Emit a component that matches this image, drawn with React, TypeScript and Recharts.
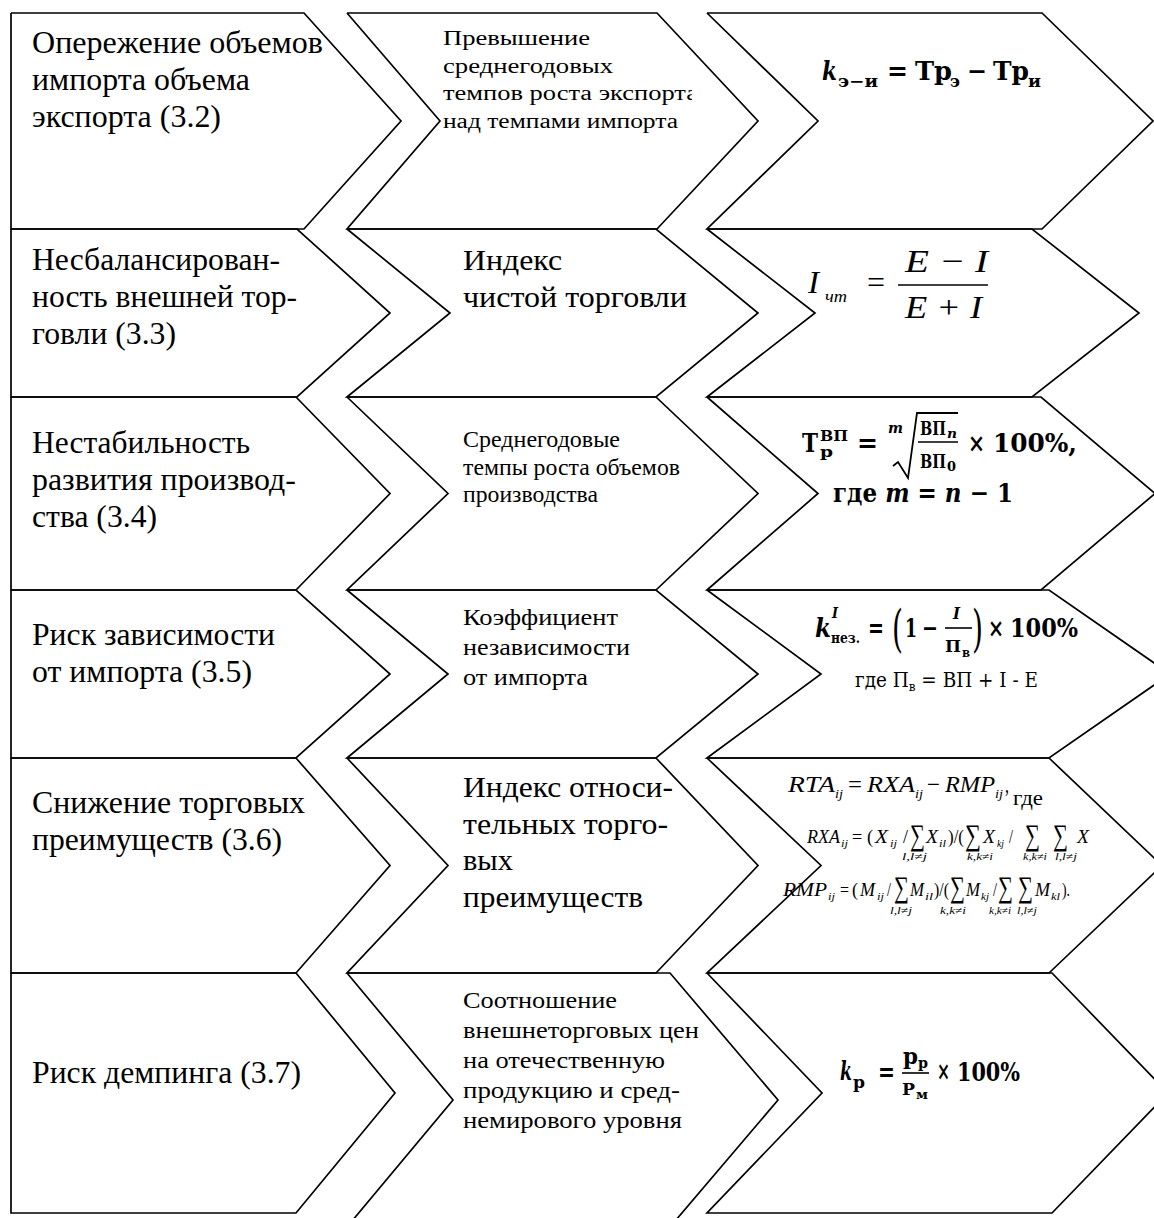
import React from 'react';
import { ComposedChart, Line, Scatter, XAxis, YAxis } from 'recharts';

const W = 1154;
const H = 1218;

// row boundaries (y) and outline points of the three columns
const rowEdges = [13, 229, 397, 590, 758, 973, 1213];
const midColLastBottom = 1227;
const colLeft = [11, 347, 707];
const col1Right = [304, 297, 296, 296, 296, 296];
const col1Tip = [401, 390, 390, 390, 390, 395];
const col2Notch = [440, 450, 448, 448, 448, 453];
const col2Right = [657, 656, 656, 656, 656, 670];
const col2Tip = [758, 758, 758, 758, 758, 778];
const col3Notch = [818, 815, 818, 821, 821, 822];
const col3Right = [1042, 1032, 1041, 1049, 1049, 1052];
const col3Tip = [1153, 1139, 1155, 1170, 1162, 1168];

const riskLabels = [
  ['Опережение объемов', 'импорта объема', 'экспорта (3.2)'],
  ['Несбалансирован-', 'ность внешней тор-', 'говли (3.3)'],
  ['Нестабильность', 'развития производ-', 'ства (3.4)'],
  ['Риск зависимости', 'от импорта (3.5)'],
  ['Снижение торговых', 'преимуществ (3.6)'],
  ['Риск демпинга (3.7)'],
];

const indicatorLabels = [
  ['Превышение', 'среднегодовых', 'темпов роста экспорта', 'над темпами импорта'],
  ['Индекс', 'чистой торговли'],
  ['Среднегодовые', 'темпы роста объемов', 'производства'],
  ['Коэффициент', 'независимости', 'от импорта'],
  ['Индекс относи-', 'тельных торго-', 'вых', 'преимуществ'],
  ['Соотношение', 'внешнеторговых цен', 'на отечественную', 'продукцию и сред-', 'немирового уровня'],
];

const SERIF = "Liberation Serif, Times New Roman, serif";
const MATH = "DejaVu Serif, serif";

// text layout
const col1Text = {
  x: 32,
  size: 31.5,
  step: 37,
  base: [53, 270, 453, 645, 813, 1083],
  widths: [[291, 218, 189], [248, 265, 144], [218, 264, 125], [243, 220], [273, 250], [269]],
};
const col2Text = {
  x: [443, 463, 463, 463, 463, 463],
  size: [20, 30, 22.5, 22.5, 30, 22.5],
  step: [27.7, 37, 27.5, 30, 36.7, 30],
  base: [45, 270, 447, 625, 797, 1008],
  widths: [[147, 170, 255, 235], [99, 224], [157, 217, 135], [155, 167, 125], [210, 205, 50, 180], [154, 236, 202, 217, 219]],
  clipRight: 692,
};

type Span = { t: string; it?: boolean; dy?: number; s?: number };
type Piece = {
  t?: string; x?: number; y?: number; s?: number; w?: number; it?: boolean; b?: boolean; f?: string;
  spans?: Span[]; line?: number[]; path?: string;
};
type Formula = { ax: number; ay: number; f: string; b: boolean; pieces: Piece[] };

const SUM = 30;

const formulas: Formula[] = [
  {
    ax: 822, ay: 80, f: MATH, b: true,
    pieces: [
      { t: 'k', x: 822, y: 80, s: 26, it: true, w: 15 },
      { t: 'э−и', x: 838, y: 87, s: 17, w: 40 },
      { t: '=', x: 887, y: 80, s: 26, w: 21 },
      { t: 'Тр', x: 915, y: 80, s: 26, w: 37 },
      { t: 'э', x: 950, y: 87, s: 17, w: 10 },
      { t: '−', x: 967, y: 80, s: 26, w: 20 },
      { t: 'Тр', x: 993, y: 80, s: 26, w: 36 },
      { t: 'и', x: 1028, y: 87, s: 17, w: 13 },
    ],
  },
  {
    ax: 808, ay: 293, f: SERIF, b: false,
    pieces: [
      { t: 'I', x: 808, y: 293, s: 32, it: true, w: 11 },
      { t: 'чт', x: 825, y: 302, s: 17, it: true, w: 22 },
      { t: '=', x: 867, y: 293, s: 32, w: 18 },
      { t: 'E − I', x: 905, y: 272, s: 32, it: true, w: 83 },
      { line: [898, 285, 988, 285] },
      { t: 'E + I', x: 905, y: 318, s: 32, it: true, w: 77 },
    ],
  },
  {
    ax: 802, ay: 452, f: MATH, b: true,
    pieces: [
      { t: 'Т', x: 802, y: 452, s: 26, w: 16 },
      { t: 'ВП', x: 820, y: 441, s: 14, w: 28 },
      { t: 'р', x: 820, y: 457, s: 14, w: 13 },
      { t: '=', x: 857, y: 452, s: 26, w: 21 },
      { t: 'm', x: 888, y: 433, s: 14, it: true, w: 15 },
      { path: 'M893,466 L898,462 L908,478 L917,413 L958,413' },
      { t: 'ВП', x: 920, y: 435, s: 19, w: 26 },
      { t: 'n', x: 947, y: 438, s: 13, it: true, w: 10 },
      { line: [918, 442, 958, 442] },
      { t: 'ВП', x: 920, y: 468, s: 19, w: 26 },
      { t: '0', x: 947, y: 471, s: 13, w: 9 },
      { t: '×', x: 968, y: 452, s: 26, w: 17 },
      { t: '100%,', x: 993, y: 452, s: 26, w: 84 },
      { x: 833, y: 502, s: 26, w: 180, spans: [{ t: 'где ' }, { t: 'm', it: true }, { t: ' = ' }, { t: 'n', it: true }, { t: ' − 1' }] },
    ],
  },
  {
    ax: 815, ay: 637, f: MATH, b: true,
    pieces: [
      { t: 'k', x: 815, y: 637, s: 26, it: true, w: 16 },
      { t: 'I', x: 832, y: 618, s: 14, it: true, w: 6 },
      { t: 'нез.', x: 831, y: 643, s: 14, w: 29 },
      { t: '=', x: 868, y: 637, s: 26, w: 16 },
      { t: '(', x: 892, y: 646, s: 50, w: 11, b: false },
      { t: '1', x: 905, y: 637, s: 26, w: 12 },
      { t: '−', x: 922, y: 637, s: 26, w: 16 },
      { t: 'I', x: 953, y: 619, s: 16, it: true, w: 7 },
      { line: [945, 628, 972, 628] },
      { t: 'П', x: 945, y: 652, s: 17, w: 16 },
      { t: 'в', x: 962, y: 657, s: 12, w: 8 },
      { t: ')', x: 972, y: 646, s: 50, w: 11, b: false },
      { t: '×', x: 988, y: 637, s: 26, w: 16 },
      { t: '100%', x: 1010, y: 637, s: 26, w: 68 },
      { x: 855, y: 687, s: 20, w: 183, b: false, spans: [{ t: 'где П' }, { t: 'в', s: 13, dy: 4 }, { t: ' = ВП + I - E', dy: -4 }] },
    ],
  },
  {
    ax: 788, ay: 792, f: SERIF, b: false,
    pieces: [
      { t: 'RTA', x: 788, y: 792, s: 23, it: true, w: 47 },
      { t: 'ij', x: 835, y: 798, s: 13, it: true, w: 8 },
      { t: '=', x: 848, y: 792, s: 23, w: 14 },
      { t: 'RXA', x: 867, y: 792, s: 23, it: true, w: 48 },
      { t: 'ij', x: 915, y: 798, s: 13, it: true, w: 8 },
      { t: '−', x: 927, y: 792, s: 23, w: 13 },
      { t: 'RMP', x: 945, y: 792, s: 23, it: true, w: 50 },
      { t: 'ij', x: 995, y: 798, s: 13, it: true, w: 8 },
      { t: ',', x: 1005, y: 792, s: 23, w: 4 },
      { t: 'где', x: 1013, y: 805, s: 21, w: 30 },

      { t: 'RXA', x: 807, y: 843, s: 18, it: true, w: 33 },
      { t: 'ij', x: 841, y: 847, s: 10, it: true, w: 7 },
      { t: '= (', x: 852, y: 843, s: 18, w: 21 },
      { t: 'X', x: 875, y: 843, s: 18, it: true, w: 13 },
      { t: 'ij', x: 890, y: 847, s: 10, it: true, w: 7 },
      { t: '/', x: 903, y: 843, s: 18, w: 5 },
      { t: '∑', x: 910, y: 845, s: SUM, w: 15 },
      { t: 'l,l≠j', x: 902, y: 860, s: 10, it: true, w: 25 },
      { t: 'X', x: 926, y: 843, s: 18, it: true, w: 12 },
      { t: 'il', x: 939, y: 847, s: 10, it: true, w: 7 },
      { t: ')/(', x: 948, y: 843, s: 18, w: 16 },
      { t: '∑', x: 965, y: 845, s: SUM, w: 16 },
      { t: 'k,k≠i', x: 967, y: 860, s: 10, it: true, w: 26 },
      { t: 'X', x: 983, y: 843, s: 18, it: true, w: 12 },
      { t: 'kj', x: 997, y: 847, s: 10, it: true, w: 7 },
      { t: '/', x: 1009, y: 843, s: 18, w: 4 },
      { t: '∑', x: 1025, y: 845, s: SUM, w: 15 },
      { t: 'k,k≠i', x: 1023, y: 860, s: 10, it: true, w: 24 },
      { t: '∑', x: 1053, y: 845, s: SUM, w: 15 },
      { t: 'l,l≠j', x: 1055, y: 860, s: 10, it: true, w: 22 },
      { t: 'X', x: 1077, y: 843, s: 18, it: true, w: 12 },

      { t: 'RMP', x: 783, y: 896, s: 18, it: true, w: 44 },
      { t: 'ij', x: 828, y: 900, s: 10, it: true, w: 7 },
      { t: '=', x: 840, y: 896, s: 18, w: 9 },
      { t: '(', x: 852, y: 896, s: 18, w: 6 },
      { t: 'M', x: 860, y: 896, s: 18, it: true, w: 15 },
      { t: 'ij', x: 877, y: 900, s: 10, it: true, w: 7 },
      { t: '/', x: 887, y: 896, s: 18, w: 4 },
      { t: '∑', x: 894, y: 897, s: SUM, w: 15 },
      { t: 'l,l≠j', x: 890, y: 914, s: 10, it: true, w: 22 },
      { t: 'M', x: 910, y: 896, s: 18, it: true, w: 14 },
      { t: 'il', x: 925, y: 900, s: 10, it: true, w: 8 },
      { t: ')/(', x: 934, y: 896, s: 18, w: 15 },
      { t: '∑', x: 950, y: 897, s: SUM, w: 15 },
      { t: 'k,k≠i', x: 940, y: 914, s: 10, it: true, w: 26 },
      { t: 'M', x: 966, y: 896, s: 18, it: true, w: 14 },
      { t: 'kj', x: 981, y: 900, s: 10, it: true, w: 8 },
      { t: '/', x: 993, y: 896, s: 18, w: 4 },
      { t: '∑', x: 998, y: 897, s: SUM, w: 15 },
      { t: 'k,k≠i', x: 989, y: 914, s: 10, it: true, w: 22 },
      { t: '∑', x: 1018, y: 897, s: SUM, w: 15 },
      { t: 'l,l≠j', x: 1017, y: 914, s: 10, it: true, w: 20 },
      { t: 'M', x: 1035, y: 896, s: 18, it: true, w: 15 },
      { t: 'kl', x: 1051, y: 900, s: 10, it: true, w: 9 },
      { t: ').', x: 1062, y: 896, s: 18, w: 8 },
    ],
  },
  {
    ax: 840, ay: 1080, f: MATH, b: true,
    pieces: [
      { t: 'k', x: 840, y: 1080, s: 26, it: true, w: 12 },
      { t: 'р', x: 853, y: 1088, s: 17, w: 12 },
      { t: '=', x: 878, y: 1081, s: 26, w: 17 },
      { t: 'р', x: 903, y: 1064, s: 22, w: 15 },
      { t: 'р', x: 918, y: 1068, s: 15, w: 10 },
      { line: [902, 1073, 929, 1073] },
      { t: 'Р', x: 902, y: 1095, s: 17, w: 13 },
      { t: 'м', x: 916, y: 1099, s: 13, w: 12 },
      { t: '×', x: 937, y: 1080, s: 26, w: 13 },
      { t: '100%', x: 957, y: 1081, s: 26, w: 63 },
    ],
  },
];

// outlines of all boxes as closed polylines
const outlines: { x: number; y: number }[][] = [];
for (let i = 0; i < 6; i++) {
  const top = rowEdges[i];
  const bot = rowEdges[i + 1];
  const m = (top + bot) / 2;
  const l1 = colLeft[0];
  outlines.push([
    { x: l1, y: top }, { x: col1Right[i], y: top }, { x: col1Tip[i], y: m },
    { x: col1Right[i], y: bot }, { x: l1, y: bot }, { x: l1, y: top },
  ]);
  const b2 = i === 5 ? midColLastBottom : bot;
  const m2 = (top + b2) / 2;
  const l2 = colLeft[1];
  outlines.push([
    { x: l2, y: top }, { x: col2Right[i], y: top }, { x: col2Tip[i], y: m2 },
    { x: col2Right[i], y: b2 }, { x: l2, y: b2 }, { x: col2Notch[i], y: m2 }, { x: l2, y: top },
  ]);
  const l3 = colLeft[2];
  outlines.push([
    { x: l3, y: top }, { x: col3Right[i], y: top }, { x: col3Tip[i], y: m },
    { x: col3Right[i], y: bot }, { x: l3, y: bot }, { x: col3Notch[i], y: m }, { x: l3, y: top },
  ]);
}

// text anchors for the scatter layer
const textItems: any[] = [];
riskLabels.forEach((lines, r) => {
  lines.forEach((t, k) => {
    textItems.push({
      x: col1Text.x, y: col1Text.base[r] + k * col1Text.step, text: t,
      size: col1Text.size, w: col1Text.widths[r][k],
    });
  });
});
indicatorLabels.forEach((lines, r) => {
  lines.forEach((t, k) => {
    textItems.push({
      x: col2Text.x[r], y: col2Text.base[r] + k * col2Text.step[r], text: t,
      size: col2Text.size[r], w: col2Text.widths[r][k], clip: r === 0,
    });
  });
});
formulas.forEach((fm, i) => {
  textItems.push({ x: fm.ax, y: fm.ay, formula: i });
});

const renderPiece = (p: Piece, fm: Formula, key: number) => {
  if (p.line) {
    const [x1, y1, x2, y2] = p.line;
    return <line key={key} x1={x1} y1={y1} x2={x2} y2={y2} stroke="#000" strokeWidth={1.6} />;
  }
  if (p.path) {
    return <path key={key} d={p.path} fill="none" stroke="#000" strokeWidth={1.8} />;
  }
  const bold = p.b !== undefined ? p.b : fm.b;
  return (
    <text
      key={key}
      x={p.x}
      y={p.y}
      style={{ fontFamily: p.f || fm.f }}
      fontSize={p.s}
      fontStyle={p.it ? 'italic' : 'normal'}
      fontWeight={bold ? 'bold' : 'normal'}
      fill="#000"
      textLength={p.w}
      lengthAdjust="spacingAndGlyphs"
    >
      {p.spans
        ? p.spans.map((sp, j) => (
            <tspan key={j} fontStyle={sp.it ? 'italic' : 'normal'} dy={sp.dy} fontSize={sp.s}>
              {sp.t}
            </tspan>
          ))
        : p.t}
    </text>
  );
};

const TextShape = (props: any) => {
  const { cx, cy, payload } = props;
  if (payload.formula !== undefined) {
    const fm = formulas[payload.formula];
    return (
      <g transform={`translate(${cx - fm.ax},${cy - fm.ay})`}>
        {fm.pieces.map((p, j) => renderPiece(p, fm, j))}
      </g>
    );
  }
  return (
    <text
      x={cx}
      y={cy}
      style={{ fontFamily: SERIF }}
      fontSize={payload.size}
      fill="#000"
      textLength={payload.w}
      lengthAdjust="spacingAndGlyphs"
      clipPath={payload.clip ? 'url(#col2clip)' : undefined}
    >
      {payload.text}
    </text>
  );
};

export default function App() {
  return (
    <div style={{ position: 'absolute', left: 0, top: 0, width: W, height: H, background: '#fff' }}>
      <ComposedChart width={W} height={H} margin={{ top: 0, right: 0, bottom: 0, left: 0 }}>
        <defs>
          <clipPath id="col2clip">
            <rect x={0} y={0} width={col2Text.clipRight} height={H} />
          </clipPath>
        </defs>
        <XAxis type="number" dataKey="x" domain={[0, W]} allowDataOverflow hide />
        <YAxis type="number" dataKey="y" domain={[0, H]} reversed allowDataOverflow hide />
        {outlines.map((pts, i) => (
          <Line
            key={`box-${i}`}
            data={pts}
            dataKey="y"
            type="linear"
            stroke="#000"
            strokeWidth={1.7}
            dot={false}
            activeDot={false}
            legendType="none"
            isAnimationActive={false}
          />
        ))}
        <Scatter data={textItems} dataKey="y" shape={TextShape} isAnimationActive={false} legendType="none" />
      </ComposedChart>
    </div>
  );
}
